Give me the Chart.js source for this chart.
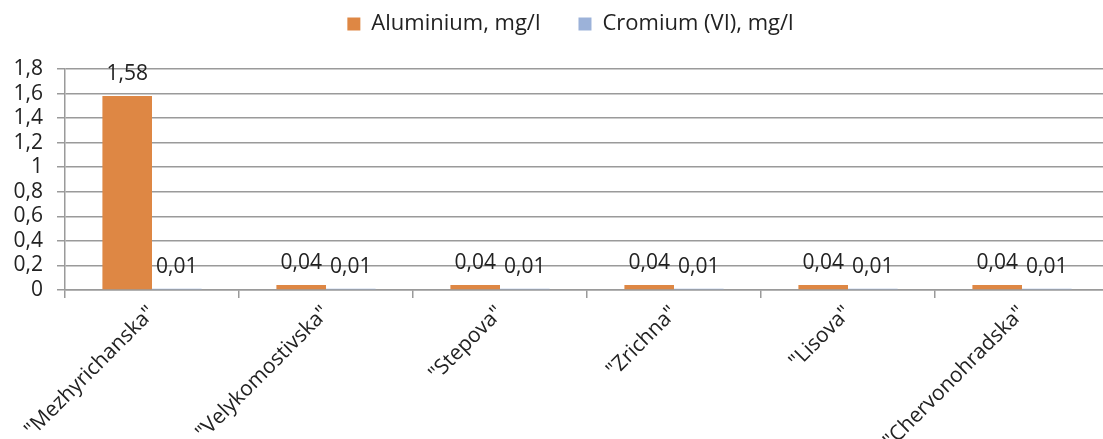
<!DOCTYPE html>
<html>
<head>
<meta charset="utf-8">
<script src="https://cdn.jsdelivr.net/npm/chart.js@4.4.0/dist/chart.umd.min.js"></script>
<style>
  html, body { margin: 0; padding: 0; background: #fff; overflow: hidden; }
  #wrap { width: 1103px; height: 439px; overflow: hidden; }
  canvas { display: block; }
</style>
</head>
<body>
<div id="wrap"><canvas id="c" width="1112" height="439"></canvas></div>
<script>
// Water sampling points and measured concentrations
const categories = ['"Mezhyrichanska"', '"Velykomostivska"', '"Stepova"', '"Zrichna"', '"Lisova"', '"Chervonohradska"'];
const aluminium = [1.58, 0.04, 0.04, 0.04, 0.04, 0.04];
const chromium = [0.01, 0.01, 0.01, 0.01, 0.01, 0.01];
const seriesNames = ['Aluminium, mg/l', 'Cromium (VI), mg/l'];

// Value axis range
const yMin = 0;
const yMax = 1.8;
const yStep = 0.2;

const FONT = "'Open Sans', sans-serif";
const TEXT = '#222222';
const GRID = '#9a9a9a';

// Decimal comma formatting
function comma(v) {
  return String(Math.round(v * 100) / 100).replace('.', ',');
}

// Draws the value above each bar
const valueLabels = {
  id: 'valueLabels',
  afterDatasetsDraw(chart) {
    const ctx = chart.ctx;
    ctx.save();
    ctx.font = '21px ' + FONT;
    ctx.fillStyle = TEXT;
    ctx.textAlign = 'center';
    ctx.textBaseline = 'middle';
    chart.data.datasets.forEach((ds, i) => {
      const meta = chart.getDatasetMeta(i);
      meta.data.forEach((bar, j) => {
        ctx.fillText(comma(ds.data[j]), bar.x, bar.y - 22);
      });
    });
    ctx.restore();
  }
};

// Legend keeps its reserved height but sits higher and a bit to the right
const legendShift = {
  id: 'legendShift',
  afterLayout(chart) {
    const lg = chart.legend;
    lg.top -= 24; lg.bottom -= 24;
    lg.left += 16; lg.right += 16;
  }
};

new Chart(document.getElementById('c'), {
  type: 'bar',
  data: {
    labels: categories,
    datasets: [
      { label: seriesNames[0], data: aluminium, backgroundColor: '#DE8744', barPercentage: 1, categoryPercentage: 0.57 },
      { label: seriesNames[1], data: chromium, backgroundColor: '#9CB2D9', barPercentage: 1, categoryPercentage: 0.57 }
    ]
  },
  options: {
    responsive: false,
    animation: false,
    layout: { padding: { left: 0, right: 3, top: -1, bottom: 0 } },
    plugins: {
      legend: {
        position: 'top',
        labels: {
          boxWidth: 13, boxHeight: 13, padding: 38, color: TEXT,
          font: { family: FONT, size: 22, lineHeight: 1 }
        }
      },
      tooltip: { enabled: false }
    },
    scales: {
      x: {
        grid: { drawOnChartArea: false, drawTicks: true, tickLength: 8, color: GRID, lineWidth: 1.5 },
        border: { color: GRID, width: 1.5 },
        ticks: { color: TEXT, font: { family: FONT, size: 21 }, minRotation: 45, maxRotation: 45, autoSkip: false, padding: 3 },
        afterFit(s) { s.height = 149; }
      },
      y: {
        min: yMin, max: yMax,
        ticks: { stepSize: yStep, autoSkip: false, color: TEXT, font: { family: FONT, size: 21 }, padding: 14, callback: v => comma(v) },
        grid: { color: GRID, lineWidth: 1.5, tickLength: 8 },
        border: { color: GRID, width: 1.5 },
        afterFit(s) { s.width = 65; }
      }
    }
  },
  plugins: [valueLabels, legendShift]
});
</script>
</body>
</html>
